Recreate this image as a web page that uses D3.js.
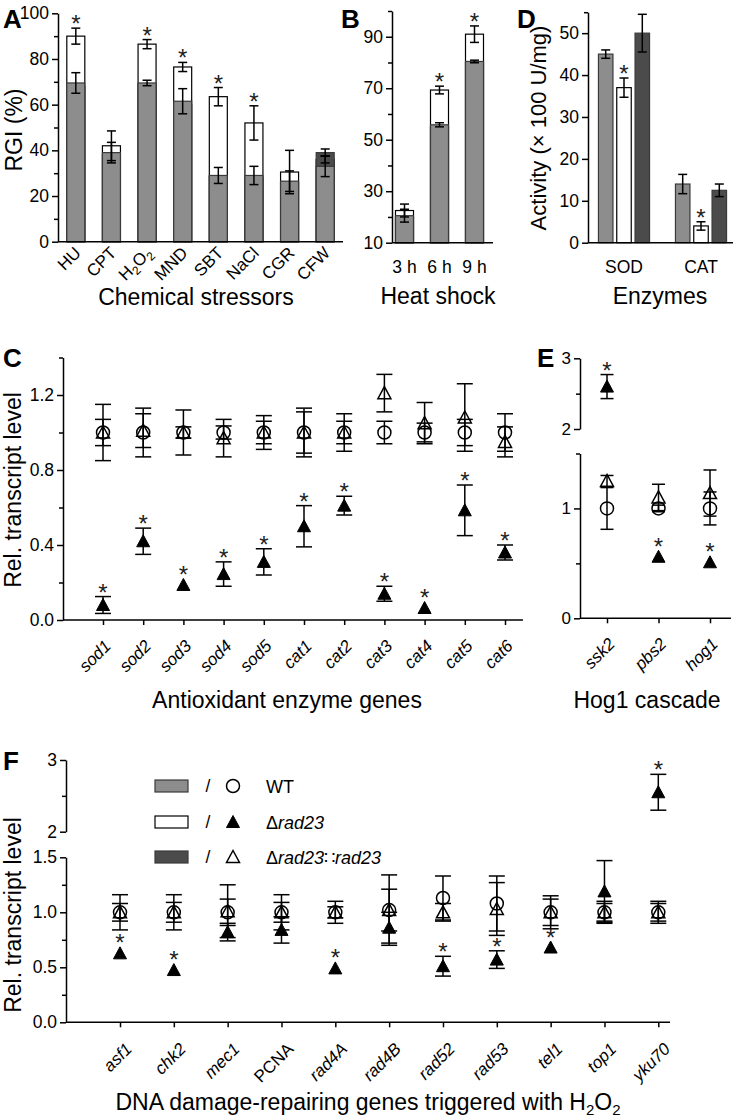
<!DOCTYPE html>
<html><head><meta charset="utf-8">
<script src="https://cdn.jsdelivr.net/npm/d3@7"></script>
<style>
body{margin:0;background:#fff;}
svg{display:block;font-family:"Liberation Sans",Arial,sans-serif;}
</style></head><body>
<svg id="chart" width="733" height="1119"></svg>
<script>
// ---------------- DATA ----------------
// Panel A: chemical stressors (RGI %)
const chemCats = ["HU","CPT","H2O2","MND","SBT","NaCl","CGR","CFW"];
const chemWT = [69.5, 39, 69.5, 61.5, 29, 29, 26.5, 33];
const chemWTErr = [4.5, 4.5, 1.2, 5.5, 3.5, 4, 4.5, 4.5];
const chemMut = [90, 42, 86.5, 76.5, 63.5, 52, 30.5, 36];
const chemMutErr = [3.5, 6.5, 2, 2, 4, 7.5, 9.5, 1.5];
const chemComp = [68, 38, 69, 60, 28.5, 28, 26, 39];
const chemCompErr = [null, null, null, null, null, null, null, 1.6];
const chemStar = [true, false, true, true, true, true, false, false];
const chemTicks = [0, 20, 40, 60, 80, 100];
const chemMinor = [10, 30, 50, 70, 90];

// Panel B: heat shock
const heatCats = ["3 h", "6 h", "9 h"];
const heatWT = [20.5, 55.8, 80.4];
const heatWTErr = [2.5, 0.8, 0.5];
const heatMut = [22.5, 69.3, 91];
const heatMutErr = [2.5, 1.5, 3.2];
const heatComp = [20, 55, 80];
const heatCompErr = [null, null, null];
const heatStar = [false, true, true];
const heatTicks = [10, 30, 50, 70, 90];
const heatMinor = [20, 40, 60, 80, 100];

// Panel D: enzymes
const enzCats = ["SOD", "CAT"];
const enzWT = [45, 14];
const enzWTErr = [1, 2.3];
const enzMut = [37, 4];
const enzMutErr = [2.3, 1];
const enzComp = [50, 12.5];
const enzCompErr = [4.5, 1.5];
const enzStar = [true, true];
const enzTicks = [0, 10, 20, 30, 40, 50];
const enzMinor = [55];

// Panel C: antioxidant enzyme genes
const antiGenes = ["sod1","sod2","sod3","sod4","sod5","cat1","cat2","cat3","cat4","cat5","cat6"];
const antiWT = [1, 1, 1, 1, 1, 1, 1, 1, 1, 1, 1];
const antiWTErr = [0.15, 0.13, 0.12, 0.035, 0.09, 0.13, 0.1, 0.06, 0.05, 0.07, 0.1];
const antiComp = [1, 1.01, 1, 0.97, 1, 1, 1, 1.21, 1.05, 1.08, 0.95];
const antiCompErr = [0.07, 0.09, 0.03, 0.1, 0.06, 0.11, 0.06, 0.1, 0.11, 0.18, 0.08];
const antiMut = [0.08, 0.42, 0.187, 0.245, 0.31, 0.5, 0.61, 0.14, 0.064, 0.585, 0.36];
const antiMutErr = [0.045, 0.07, null, 0.065, 0.07, 0.11, 0.05, 0.04, null, 0.135, 0.04];
const antiStar = [true, true, true, true, true, true, true, true, true, true, true];
const antiTicks = [0, 0.4, 0.8, 1.2];
const antiMinor = [0.2, 0.6, 1.0, 1.4];

// Panel E: Hog1 cascade
const hogGenes = ["ssk2", "pbs2", "hog1"];
const hogWT = [1, 1, 1];
const hogWTErr = [0.19, 0.03, 0.15];
const hogComp = [1.25, 1.1, 1.14];
const hogCompErr = [0.05, 0.12, 0.21];
const hogMut = [2.6, 0.56, 0.51];
const hogMutErr = [0.17, null, null];
const hogStar = [true, true, true];

// Panel F: DNA damage-repairing genes
const dnaGenes = ["asf1","chk2","mec1","PCNA","rad4A","rad4B","rad52","rad53","tel1","top1","yku70"];
const dnaItalic = [true, true, true, false, true, true, true, true, true, true, true];
const dnaWT = [1, 1, 1, 1, 1, 1.02, 1.13, 1.08, 1, 1, 1];
const dnaWTErr = [0.16, 0.16, 0.12, 0.16, 0.1, 0.19, 0.2, 0.25, 0.15, 0.08, 0.1];
const dnaComp = [1, 1, 1.01, 1, 1, 1.02, 1, 1.03, 1, 1, 1];
const dnaCompErr = [0.08, 0.09, 0.24, 0.09, 0.05, 0.32, 0.08, 0.24, 0.12, 0.1, 0.08];
const dnaMut = [0.627, 0.475, 0.82, 0.84, 0.49, 0.86, 0.51, 0.57, 0.68, 1.19, 2.55];
const dnaMutErr = [null, null, 0.08, 0.12, null, 0.14, 0.09, 0.08, null, 0.28, 0.25];
const dnaStar = [true, true, false, false, true, false, true, true, true, false, true];

const lowTicksE = [0, 1], lowMinorE = [0.5, 1.5];
const upTicks = [2, 3], upMinor = [2.5];
const lowTicksF = [0, 0.5, 1.0, 1.5], lowMinorF = [0.25, 0.75, 1.25];

const legendLabels = ["WT", "Δrad23", "Δrad23∷rad23"];

// ---------------- STYLE ----------------
const svg = d3.select("#chart");
const GRAY = "#8d8d8d", DARK = "#4b4b4b", BSTROKE = "#3a3a3a";
const FT = 17.5, FTITLE = 23, FLET = 26, FCAT = 17;
const LW = 1.5;

function styleAxis(g, fs) {
  g.selectAll("path.domain").attr("stroke", "#000").attr("stroke-width", LW);
  g.selectAll(".tick line").attr("stroke", "#000").attr("stroke-width", LW);
  g.selectAll("text").attr("font-size", fs || FT).attr("fill", "#000")
    .attr("font-family", '"Liberation Sans",Arial,sans-serif');
}
function yAxis(x, scale, majors, minors, fmt, fs) {
  const g = svg.append("g").attr("transform", `translate(${x},0)`);
  g.call(d3.axisLeft(scale).tickValues(majors).tickFormat(fmt).tickSize(6).tickSizeOuter(0).tickPadding(3));
  const g2 = svg.append("g").attr("transform", `translate(${x},0)`);
  g2.call(d3.axisLeft(scale).tickValues(minors).tickFormat("").tickSize(4).tickSizeOuter(0));
  g2.select("path.domain").remove();
  styleAxis(g, fs); styleAxis(g2, fs);
}
function hline(x0, x1, y) {
  svg.append("line").attr("x1", x0).attr("x2", x1).attr("y1", y).attr("y2", y)
    .attr("stroke", "#000").attr("stroke-width", LW);
}
function letter(t, x, y) {
  svg.append("text").attr("x", x).attr("y", y).attr("font-size", FLET).attr("font-weight", "bold").text(t);
}
function title(t, x, y, rot, fs) {
  const e = svg.append("text").attr("font-size", fs || FTITLE).attr("text-anchor", "middle");
  if (rot) e.attr("transform", `translate(${x},${y}) rotate(-90)`);
  else e.attr("x", x).attr("y", y);
  e.text(t);
  return e;
}
function errBar(x, y, lo, hi, cw) {
  const g = svg.append("g").attr("stroke", "#000").attr("stroke-width", LW).attr("fill", "none");
  g.append("line").attr("x1", x).attr("x2", x).attr("y1", y(lo)).attr("y2", y(hi));
  g.append("line").attr("x1", x - cw / 2).attr("x2", x + cw / 2).attr("y1", y(lo)).attr("y2", y(lo));
  g.append("line").attr("x1", x - cw / 2).attr("x2", x + cw / 2).attr("y1", y(hi)).attr("y2", y(hi));
}
function star(x, ytop) {
  svg.append("text").attr("x", x).attr("y", ytop + 6).attr("text-anchor", "middle")
    .attr("font-size", 24).attr("fill", "#222").text("*");
}
const triPath = "M0,-6.5L6.5,5.5L-6.5,5.5Z";
function marker(type, x, y) {
  if (type === "circle") {
    svg.append("circle").attr("cx", x).attr("cy", y).attr("r", 6.5)
      .attr("fill", "none").attr("stroke", "#000").attr("stroke-width", LW);
  } else if (type === "otri") {
    svg.append("path").attr("d", triPath).attr("transform", `translate(${x},${y})`)
      .attr("fill", "none").attr("stroke", "#000").attr("stroke-width", LW);
  } else {
    svg.append("path").attr("d", triPath).attr("transform", `translate(${x},${y})`)
      .attr("fill", "#000").attr("stroke", "#000").attr("stroke-width", 1);
  }
}
function catLabel(x, y, txt, italic) {
  const t = svg.append("text").attr("text-anchor", "end").attr("font-size", FCAT)
    .attr("transform", `translate(${x},${y}) rotate(-45)`);
  if (txt === "H2O2") {
    t.append("tspan").text("H");
    t.append("tspan").text("2").attr("font-size", 12).attr("dy", 4);
    t.append("tspan").text("O").attr("dy", -4);
    t.append("tspan").text("2").attr("font-size", 12).attr("dy", 4);
  } else {
    t.text(txt);
    if (italic) t.attr("font-style", "italic");
  }
}

// ---------------- PANEL A ----------------
{
  const yA = d3.scaleLinear().domain([0, 100]).range([241.7, 13.3]);
  const xA = d3.scaleBand().domain(chemCats).range([58, 343]);
  const bw = 18;
  chemCats.forEach((c, i) => {
    const cx = xA(c) + xA.bandwidth() / 2;
    [[chemMut[i], "#fff", "#000"], [chemComp[i], DARK, BSTROKE], [chemWT[i], GRAY, BSTROKE]].forEach(([v, f, s]) => {
      svg.append("rect").attr("x", cx - bw / 2).attr("y", yA(v)).attr("width", bw)
        .attr("height", yA(0) - yA(v)).attr("fill", f).attr("stroke", s).attr("stroke-width", 1.2);
    });
  });
  chemCats.forEach((c, i) => {
    const cx = xA(c) + xA.bandwidth() / 2;
    [[chemMut[i], chemMutErr[i]], [chemComp[i], chemCompErr[i]], [chemWT[i], chemWTErr[i]]].forEach(([v, e]) => {
      if (e != null) errBar(cx, yA, v - e, v + e, 9);
    });
    if (chemStar[i]) star(cx, yA(chemMut[i] + chemMutErr[i]) - 2);
    catLabel(cx + 6, 254, c, false);
  });
  yAxis(58, yA, chemTicks, chemMinor, d3.format("d"), FT);
  hline(58, 343, 241.7);
  letter("A", 3, 28);
  title("RGI (%)", 22, 130, true);
  title("Chemical stressors", 196, 305);
}

// ---------------- PANEL B ----------------
{
  const yB = d3.scaleLinear().domain([10, 100]).range([242.7, 11]);
  const xB = d3.scaleBand().domain(heatCats).range([387, 492]);
  const bw = 18;
  heatCats.forEach((c, i) => {
    const cx = xB(c) + xB.bandwidth() / 2;
    [[heatMut[i], "#fff", "#000"], [heatComp[i], DARK, BSTROKE], [heatWT[i], GRAY, BSTROKE]].forEach(([v, f, s]) => {
      svg.append("rect").attr("x", cx - bw / 2).attr("y", yB(v)).attr("width", bw)
        .attr("height", yB(10) - yB(v)).attr("fill", f).attr("stroke", s).attr("stroke-width", 1.2);
    });
  });
  heatCats.forEach((c, i) => {
    const cx = xB(c) + xB.bandwidth() / 2;
    [[heatMut[i], heatMutErr[i]], [heatComp[i], heatCompErr[i]], [heatWT[i], heatWTErr[i]]].forEach(([v, e]) => {
      if (e != null) errBar(cx, yB, v - e, v + e, 9);
    });
    if (heatStar[i]) star(cx, yB(heatMut[i] + heatMutErr[i]) - 2);
    svg.append("text").attr("x", cx).attr("y", 273).attr("text-anchor", "middle").attr("font-size", FT).text(c);
  });
  yAxis(392, yB, heatTicks, heatMinor, d3.format("d"), FT);
  hline(392, 493, 242.7);
  letter("B", 341, 28);
  title("Heat shock", 438, 304);
}

// ---------------- PANEL D ----------------
{
  const yD = d3.scaleLinear().domain([0, 55]).range([242.7, 12.2]);
  const xD = d3.scalePoint().domain(enzCats).range([624, 701]);
  const bw = 14.5, off = 18.3;
  enzCats.forEach((c, i) => {
    const cx = xD(c);
    const ser = [[enzWT[i], enzWTErr[i], GRAY, BSTROKE, -off], [enzMut[i], enzMutErr[i], "#fff", "#000", 0], [enzComp[i], enzCompErr[i], DARK, BSTROKE, off]];
    ser.forEach(([v, e, f, s, o]) => {
      svg.append("rect").attr("x", cx + o - bw / 2).attr("y", yD(v)).attr("width", bw)
        .attr("height", yD(0) - yD(v)).attr("fill", f).attr("stroke", s).attr("stroke-width", 1.2);
      errBar(cx + o, yD, v - e, v + e, 9);
    });
    if (enzStar[i]) star(cx, yD(enzMut[i] + enzMutErr[i]) - 2);
    svg.append("text").attr("x", cx).attr("y", 273).attr("text-anchor", "middle").attr("font-size", FT).text(c);
  });
  yAxis(588, yD, enzTicks, enzMinor, d3.format("d"), FT);
  hline(588, 733, 242.7);
  letter("D", 517, 28);
  title("Activity (× 100 U/mg)", 546, 128, true, 22);
  title("Enzymes", 660, 304);
}

// ---------------- point-panel helper ----------------
function pointGroup(x, y, wt, wtE, comp, compE, mut, mutE, st, cw) {
  errBar(x, y, wt - wtE, wt + wtE, cw);
  errBar(x, y, comp - compE, comp + compE, cw);
  if (mutE != null) errBar(x, y, mut - mutE, mut + mutE, cw);
  marker("circle", x, y(wt));
  marker("otri", x, y(comp));
  marker("ftri", x, y(mut));
  if (st) {
    const top = mutE != null ? y(mut + mutE) - 2 : y(mut) - 8;
    star(x, top);
  }
}

// ---------------- PANEL C ----------------
{
  const yC = d3.scaleLinear().domain([0, 1.4]).range([620, 357.5]);
  const xC = d3.scalePoint().domain(antiGenes).range([103, 505]);
  yAxis(63, yC, antiTicks, antiMinor, d3.format(".1f"), FT);
  const gx = svg.append("g").attr("transform", "translate(0,620)");
  gx.call(d3.axisBottom(xC).tickFormat("").tickSize(5).tickSizeOuter(0));
  gx.select("path.domain").attr("d", "M63,0H523");
  styleAxis(gx);
  antiGenes.forEach((gname, i) => {
    const x = xC(gname);
    pointGroup(x, yC, antiWT[i], antiWTErr[i], antiComp[i], antiCompErr[i], antiMut[i], antiMutErr[i], antiStar[i], 16);
    catLabel(x + 9, 647, gname, true);
  });
  letter("C", 3, 367);
  title("Rel. transcript level", 21, 490, true);
  title("Antioxidant enzyme genes", 287, 708);
}

// ---------------- PANEL E ----------------
{
  const yLow = d3.scaleLinear().domain([0, 1.5]).range([618.3, 453.5]);
  const yUp = d3.scaleLinear().domain([2, 3]).range([429, 358.3]);
  const yE = v => (v >= 1.75 ? yUp(v) : yLow(v));
  yAxis(580, yLow, lowTicksE, lowMinorE, d3.format("d"), 17);
  yAxis(580, yUp, upTicks, upMinor, d3.format("d"), 17);
  const xE = d3.scalePoint().domain(hogGenes).range([607, 710]);
  const gx = svg.append("g").attr("transform", "translate(0,618.3)");
  gx.call(d3.axisBottom(xE).tickFormat("").tickSize(5).tickSizeOuter(0));
  gx.select("path.domain").attr("d", "M580,0H731");
  styleAxis(gx);
  hogGenes.forEach((gname, i) => {
    const x = xE(gname);
    pointGroup(x, yE, hogWT[i], hogWTErr[i], hogComp[i], hogCompErr[i], hogMut[i], hogMutErr[i], hogStar[i], 13);
    catLabel(x + 9, 645, gname, true);
  });
  letter("E", 537, 367);
  title("Hog1 cascade", 647, 708);
}

// ---------------- PANEL F ----------------
{
  const yLow = d3.scaleLinear().domain([0, 1.5]).range([1022.3, 857.3]);
  const yUp = d3.scaleLinear().domain([2, 3]).range([831.7, 760]);
  const yF = v => (v >= 1.75 ? yUp(v) : yLow(v));
  yAxis(66, yLow, lowTicksF, lowMinorF, d3.format(".1f"), FT);
  yAxis(66, yUp, upTicks, upMinor, d3.format("d"), FT);
  const xF = d3.scalePoint().domain(dnaGenes).range([120, 658.3]);
  const gx = svg.append("g").attr("transform", "translate(0,1022.3)");
  gx.call(d3.axisBottom(xF).tickFormat("").tickSize(5).tickSizeOuter(0));
  gx.select("path.domain").attr("d", "M66,0H670");
  styleAxis(gx);
  dnaGenes.forEach((gname, i) => {
    const x = xF(gname);
    pointGroup(x, yF, dnaWT[i], dnaWTErr[i], dnaComp[i], dnaCompErr[i], dnaMut[i], dnaMutErr[i], dnaStar[i], 16);
    catLabel(x + 13, 1050, gname, dnaItalic[i]);
  });
  letter("F", 3, 770);
  title("Rel. transcript level", 21, 915, true);
  const t = svg.append("text").attr("x", 368).attr("y", 1110).attr("text-anchor", "middle").attr("font-size", FTITLE);
  t.append("tspan").text("DNA damage-repairing genes triggered with H");
  t.append("tspan").text("2").attr("font-size", 15).attr("dy", 5);
  t.append("tspan").text("O").attr("dy", -5);
  t.append("tspan").text("2").attr("font-size", 15).attr("dy", 5);

  // legend
  const rows = [786, 822, 857];
  const fills = [[GRAY, BSTROKE], ["#fff", "#000"], [DARK, BSTROKE]];
  const marks = ["circle", "ftri", "otri"];
  legendLabels.forEach((lab, i) => {
    const yy = rows[i];
    svg.append("rect").attr("x", 155).attr("y", yy - 6).attr("width", 33).attr("height", 12)
      .attr("fill", fills[i][0]).attr("stroke", fills[i][1]).attr("stroke-width", 1.2);
    svg.append("text").attr("x", 208).attr("y", yy + 6).attr("text-anchor", "middle").attr("font-size", FT).text("/");
    marker(marks[i], 233, yy);
    const t2 = svg.append("text").attr("x", 266).attr("y", yy + 6.5).attr("font-size", 18);
    if (lab === "WT") t2.text(lab);
    else {
      const parts = lab.split("∷");
      t2.append("tspan").text("Δ");
      t2.append("tspan").text(parts[0].slice(1)).attr("font-style", "italic");
      if (parts.length > 1) {
        t2.append("tspan").text("∷");
        t2.append("tspan").text(parts[1]).attr("font-style", "italic");
      }
    }
  });
}
</script>
</body></html>
